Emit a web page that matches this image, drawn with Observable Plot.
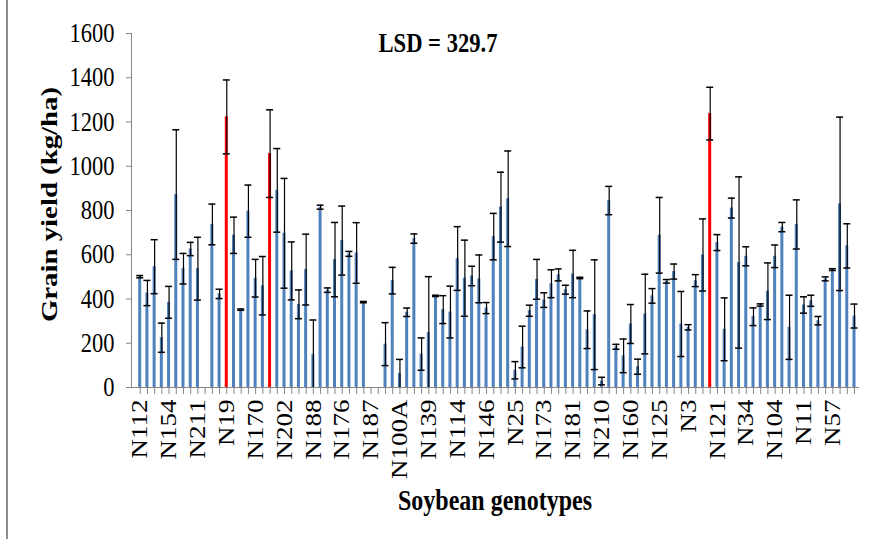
<!DOCTYPE html>
<html><head><meta charset="utf-8">
<script src="https://cdn.jsdelivr.net/npm/d3@7"></script>
<script src="https://cdn.jsdelivr.net/npm/@observablehq/plot@0.6"></script>
<style>
html,body{margin:0;padding:0;background:#fff;}
#wrap{position:relative;width:869px;height:539px;overflow:hidden;background:#fff;}
#edge{position:absolute;left:6px;top:0;width:2px;height:539px;background:#8c8c8c;}
#wrap svg text{fill:#000;}
</style></head><body><div id="wrap"><div id="edge"></div></div>
<script>
// Tick labels shown (every 4th genotype, as in the original)
const tickLabels = ["N112","N154","N211","N19","N170","N202","N188","N176","N187","N100A","N139","N114","N146","N25","N173","N181","N210","N160","N125","N3","N121","N34","N104","N11","N57"];
// Mean grain yield (kg/ha) per genotype position; null = no bar
const yieldMean = [
  501,427,546,225,385,872,537,626,537,null,
  737,423,1223,688,352,797,494,460,1057,891,
  697,527,376,533,149,815,440,578,664,604,
  608,386,null,null,196,483,63,340,673,151,
  248,414,352,341,583,494,504,491,359,682,
  815,853,78,183,347,489,395,469,509,442,
  513,495,261,329,29,845,184,143,287,94,
  332,414,688,480,524,287,272,483,599,1238,
  655,263,811,565,593,320,373,435,593,725,
  272,737,373,392,302,491,533,830,640,323];
// Error (+/-) per genotype position
const yieldErr = [
  5,57,122,66,72,293,69,30,142,null,
  92,21,167,82,3,118,85,132,198,189,
  248,131,65,160,156,9,10,168,156,11,
  137,3,null,null,97,60,64,19,21,73,
  253,3,63,117,144,172,44,108,25,105,
  158,216,39,94,25,90,33,63,27,20,
  107,3,85,248,17,64,11,76,88,34,
  180,33,171,8,34,147,12,27,163,119,
  36,142,45,387,43,40,5,128,51,21,
  145,111,37,25,19,9,4,392,100,54];
// Positions drawn in red
const highlighted = [12, 18, 79];
const lsdText = "LSD = 329.7";
const yTitle = "Grain yield (kg/ha)";
const xTitle = "Soybean genotypes";

const idx = d3.range(yieldMean.length);
const rows = idx.map(i => ({i, mean: yieldMean[i], err: yieldErr[i], hi: highlighted.includes(i)}))
  .filter(d => d.mean != null);
const lo = d => d.mean - d.err, hi = d => d.mean + d.err;

const chart = Plot.plot({
  width: 869, height: 539,
  marginLeft: 131, marginRight: 11, marginTop: 33, marginBottom: 152,
  style: {fontFamily: "'Liberation Serif','Times New Roman',serif", fontSize: "22.5px", color: "#868686", background: "#fff", overflow: "visible"},
  x: {type: "band", domain: idx, paddingInner: 0.584, paddingOuter: 0.672, align: 0.742, round: false,
      label: null, tickSize: 7, tickPadding: 5, tickRotate: -90, line: true,
      tickFormat: i => (i % 4 === 0 ? tickLabels[i / 4] : "")},
  y: {domain: [0, 1600], ticks: 8, tickFormat: "d", label: null, tickSize: 5, tickPadding: 12, line: true},
  marks: [
    Plot.barY(rows, {x: "i", y: "mean", fill: d => (d.hi ? "#FF0000" : "#4F81BD")}),
    Plot.ruleX(rows, {x: "i", y1: lo, y2: hi, stroke: "#000", strokeWidth: 1.2, clip: true}),
    Plot.tickY(rows, {x: "i", y: lo, stroke: "#000", strokeWidth: 1.5, insetLeft: -2, insetRight: -2, clip: true}),
    Plot.tickY(rows, {x: "i", y: hi, stroke: "#000", strokeWidth: 1.5, insetLeft: -2, insetRight: -2, clip: true}),
    Plot.text([lsdText], {frameAnchor: "top", textAnchor: "middle", lineAnchor: "middle", dx: -57, dy: 10, fontWeight: "bold", fontSize: 22.6}),
    Plot.text([xTitle], {frameAnchor: "bottom", textAnchor: "middle", lineAnchor: "middle", dy: 113, fontWeight: "bold", fontSize: 24}),
    Plot.text([yTitle], {frameAnchor: "left", textAnchor: "middle", lineAnchor: "middle", rotate: -90, dx: -82, dy: -6, fontWeight: "bold", fontSize: 24})
  ]
});
document.getElementById("wrap").appendChild(chart);

// The original's lettering is vertically stretched; reproduce that
const S = 1.2;
chart.querySelectorAll("text").forEach(t => {
  const tr = t.getAttribute("transform");
  const m = tr && tr.match(/^\s*translate\(([^)]*)\)(.*)$/);
  if (m) {
    t.setAttribute("transform", `translate(${m[1]}) scale(1,${S})${m[2]}`);
  } else if (!tr) {
    const x = +(t.getAttribute("x") || 0), y = +(t.getAttribute("y") || 0);
    t.setAttribute("transform", `translate(${x},${y}) scale(1,${S}) translate(${-x},${-y})`);
  }
});
</script></body></html>
